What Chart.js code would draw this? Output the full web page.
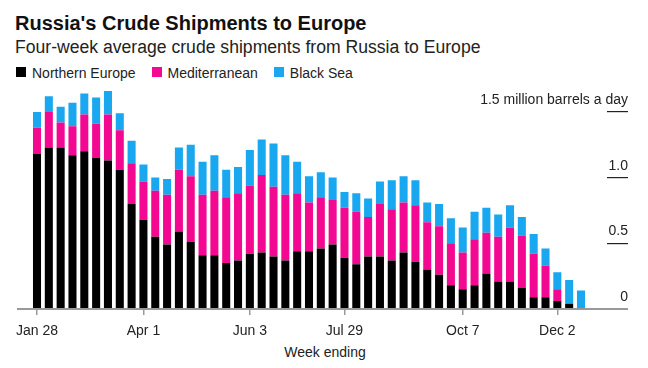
<!DOCTYPE html>
<html>
<head>
<meta charset="utf-8">
<script src="https://cdn.jsdelivr.net/npm/chart.js@4"></script>
<style>
  html, body { margin: 0; padding: 0; background: #fff; }
  body { width: 648px; height: 368px; position: relative; overflow: hidden; font-family: "Liberation Sans", Arial, sans-serif; color: #111; }
  #titre { position: absolute; left: 15px; top: 12.6px; font-size: 20px; line-height: 20px; font-weight: bold; }
  #soustitre { position: absolute; left: 15px; top: 39.2px; font-size: 17.6px; line-height: 17.6px; color: #222; }
  #legende { position: absolute; left: 16px; top: 65.9px; font-size: 14px; line-height: 14px; display: flex; color: #222; }
  #legende span.item { display: flex; align-items: flex-start; margin-right: 16px; }
  #legende span.carre { display: inline-block; width: 10px; height: 10px; margin-top: 1.5px; margin-right: 6px; }
  #axe-x { position: absolute; left: 0; width: 648px; top: 345px; text-align: center; padding-left: 1px; font-size: 14px; line-height: 14px; color: #222; }
  #graph { position: absolute; left: 0; top: 0; }
</style>
</head>
<body>
<div id="titre">Russia's Crude Shipments to Europe</div>
<div id="soustitre">Four-week average crude shipments from Russia to Europe</div>
<div id="legende"></div>
<div id="axe-x">Week ending</div>
<canvas id="graph" width="648" height="368"></canvas>
<script>
'use strict';

/* global Chart */

// Semaines (fin de semaine)
const semaines = ['Jan 28', 'Feb 4', 'Feb 11', 'Feb 18', 'Feb 25', 'Mar 4', 'Mar 11', 'Mar 18', 'Mar 25',
    'Apr 1', 'Apr 8', 'Apr 15', 'Apr 22', 'Apr 29', 'May 6', 'May 13', 'May 20', 'May 27',
    'Jun 3', 'Jun 10', 'Jun 17', 'Jun 24', 'Jul 1', 'Jul 8', 'Jul 15', 'Jul 22', 'Jul 29',
    'Aug 5', 'Aug 12', 'Aug 19', 'Aug 26', 'Sep 2', 'Sep 9', 'Sep 16', 'Sep 23', 'Sep 30',
    'Oct 7', 'Oct 14', 'Oct 21', 'Oct 28', 'Nov 4', 'Nov 11', 'Nov 18', 'Nov 25',
    'Dec 2', 'Dec 9', 'Dec 16'];

// million de barils par jour
const nordEurope = [1.18, 1.23, 1.23, 1.17, 1.20, 1.15, 1.13, 1.06, 0.80, 0.68, 0.55, 0.49,
    0.59, 0.51, 0.41, 0.41, 0.35, 0.37, 0.42, 0.43, 0.40, 0.37, 0.44, 0.44, 0.46, 0.49,
    0.39, 0.34, 0.40, 0.40, 0.37, 0.43, 0.36, 0.30, 0.26, 0.18, 0.15, 0.18, 0.27, 0.21,
    0.21, 0.16, 0.09, 0.09, 0.06, 0.04, 0];
const mediterranee = [0.20, 0.27, 0.19, 0.22, 0.28, 0.26, 0.35, 0.30, 0.31, 0.29, 0.35, 0.38,
    0.47, 0.50, 0.46, 0.49, 0.50, 0.51, 0.52, 0.59, 0.53, 0.50, 0.44, 0.37, 0.39, 0.34,
    0.38, 0.40, 0.30, 0.40, 0.39, 0.38, 0.43, 0.36, 0.37, 0.32, 0.28, 0.35, 0.31, 0.34,
    0.41, 0.40, 0.33, 0.24, 0.09, 0, 0];
const merNoire = [0.12, 0.12, 0.12, 0.18, 0.16, 0.20, 0.18, 0.13, 0.17, 0.13, 0.10, 0.12,
    0.17, 0.24, 0.25, 0.27, 0.21, 0.20, 0.27, 0.27, 0.33, 0.30, 0.24, 0.20, 0.19, 0.17,
    0.12, 0.14, 0.14, 0.17, 0.22, 0.20, 0.19, 0.15, 0.17, 0.19, 0.19, 0.21, 0.19, 0.17,
    0.17, 0.14, 0.15, 0.13, 0.13, 0.18, 0.14];

const nomsSeries = ['Northern Europe', 'Mediterranean', 'Black Sea'];
const couleurs = ['#000000', '#f30891', '#19a7ef'];

// Étiquettes des axes
const indicesX = [0, 9, 18, 26, 36, 44];
const valeursY = [0, 0.5, 1, 1.5];
const etiquettesY = ['0', '0.5', '1.0', '1.5 million barrels a day'];

document.addEventListener('DOMContentLoaded', function () {
    // Légende
    const legende = document.getElementById('legende');
    nomsSeries.forEach(function (nom, i) {
        const item = document.createElement('span');
        item.className = 'item';
        const carre = document.createElement('span');
        carre.className = 'carre';
        carre.style.background = couleurs[i];
        item.appendChild(carre);
        item.appendChild(document.createTextNode(nom));
        legende.appendChild(item);
    });

    const series = [nordEurope, mediterranee, merNoire];
    const dataChartJs = {
        datasets: series.map(function (valeurs, i) {
            return {
                label: nomsSeries[i],
                data: valeurs.map((v, j) => ({ x: j, y: v })),
                backgroundColor: couleurs[i],
                borderWidth: 0,
                barPercentage: 0.68,
                categoryPercentage: 1
            };
        })
    };

    // Étiquettes de l'axe Y, au-dessus des tirets
    const pluginEtiquettesY = {
        id: 'etiquettesY',
        afterDraw(chart) {
            const ctx = chart.ctx;
            const y = chart.scales.y;
            ctx.save();
            ctx.font = '14px "Liberation Sans", Arial, sans-serif';
            ctx.fillStyle = '#222';
            ctx.textAlign = 'right';
            ctx.textBaseline = 'alphabetic';
            valeursY.forEach(function (v, i) {
                ctx.fillText(etiquettesY[i], 628, y.getPixelForValue(v) - 8);
            });
            ctx.restore();
        }
    };

    // eslint-disable-next-line no-unused-vars
    let diagChartJs = new Chart(document.getElementById('graph').getContext('2d'), {
        type: 'bar',
        data: dataChartJs,
        options: {
            responsive: false,
            animation: false,
            layout: { padding: { left: 18, right: 20, top: 85.62, bottom: 0 } },
            plugins: { legend: { display: false }, tooltip: { enabled: false } },
            scales: {
                x: {
                    type: 'linear',
                    stacked: true,
                    offset: false,
                    min: -1.607,
                    max: 48.2,
                    afterFit(scale) { scale.height = 59; },
                    afterBuildTicks(scale) { scale.ticks = indicesX.map(v => ({ value: v })); },
                    grid: { offset: false, drawOnChartArea: false, tickLength: 6, color: '#999', lineWidth: 1.5 },
                    border: { color: '#999', width: 2 },
                    ticks: {
                        autoSkip: false,
                        maxRotation: 0,
                        padding: 8,
                        color: '#222',
                        font: { family: '"Liberation Sans", Arial, sans-serif', size: 14 },
                        callback: (v) => semaines[v]
                    }
                },
                y: {
                    position: 'right',
                    stacked: true,
                    min: 0,
                    max: 1.7,
                    afterFit(scale) { scale.width = 21; },
                    afterBuildTicks(scale) { scale.ticks = valeursY.map(v => ({ value: v })); },
                    grid: {
                        drawOnChartArea: false,
                        tickLength: 21,
                        color: (c) => (c.tick && c.tick.value === 0 ? '#999' : '#222'),
                        lineWidth: (c) => (c.tick && c.tick.value === 0 ? 2 : 1.2)
                    },
                    border: { display: false },
                    ticks: { display: false }
                }
            }
        },
        plugins: [pluginEtiquettesY]
    });
});
</script>
</body>
</html>
